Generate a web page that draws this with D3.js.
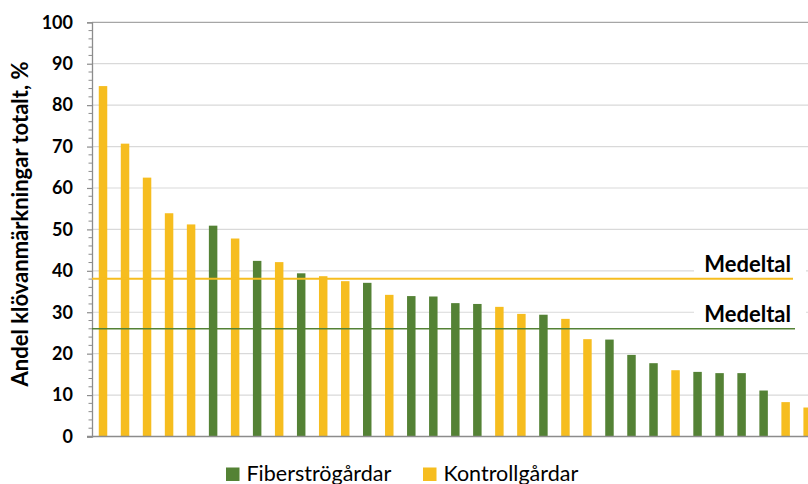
<!DOCTYPE html>
<html>
<head>
<meta charset="utf-8">
<script src="https://cdn.jsdelivr.net/npm/d3@7"></script>
<style>
  html, body { margin: 0; padding: 0; background: #fff; }
  svg { display: block; }
  text { font-family: Lato, "Open Sans", sans-serif; }
</style>
</head>
<body>
<svg id="chart" width="808" height="484"></svg>
<script>
// Share of hoof lesions per farm, sorted descending
const farmType = [
  "K","K","K","K","K","F","K","F","K","F","K",
  "K","F","K","F","F","F","F","K","K","F","K",
  "K","F","F","F","K","F","F","F","F","K","K"
];
const values = [
  84.6, 70.7, 62.5, 53.9, 51.2, 50.9, 47.8, 42.4, 42.1, 39.4, 38.7,
  37.5, 37.1, 34.2, 33.9, 33.8, 32.2, 32.0, 31.3, 29.6, 29.4, 28.4,
  23.5, 23.4, 19.7, 17.7, 16.0, 15.6, 15.3, 15.3, 11.1, 8.3, 7.0
];
const groupKeys = ["F", "K"];
const groupNames = ["Fiberströgårdar", "Kontrollgårdar"];
const groupColors = ["#548235", "#F6BD1F"];
const groupMeans = [26.0, 38.1];
const meanLabel = "Medeltal";
const yTicks = [0, 10, 20, 30, 40, 50, 60, 70, 80, 90, 100];
const yTitle = "Andel klövanmärkningar totalt, %";

const svg = d3.select("#chart");
const W = 808;
const plotLeft = 92, plotTop = 22.3, plotBottom = 436.5;
const step = 22.02;

const x = d3.scaleBand()
  .domain(d3.range(values.length))
  .range([plotLeft, plotLeft + step * values.length])
  .paddingInner(0.615)
  .paddingOuter(0.3075);
const y = d3.scaleLinear().domain([0, 100]).range([plotBottom, plotTop]);
const color = d3.scaleOrdinal().domain(groupKeys).range(groupColors);

// horizontal gridlines
svg.append("g").selectAll("line")
  .data(yTicks.filter(t => t > 0))
  .join("line")
  .attr("x1", plotLeft).attr("x2", W)
  .attr("y1", d => y(d)).attr("y2", d => y(d))
  .attr("stroke", d => d === 100 ? "#a6a6a6" : "#d9d9d9")
  .attr("stroke-width", 1.2);

// white backing behind the mean labels
const labelBoxes = svg.append("g");

// bars
svg.append("g").selectAll("rect")
  .data(values)
  .join("rect")
  .attr("x", (d, i) => x(i))
  .attr("width", x.bandwidth())
  .attr("y", d => y(d))
  .attr("height", d => y(0) - y(d))
  .attr("fill", (d, i) => color(farmType[i]));

// y axis with major and minor ticks
const yAxis = d3.axisLeft(y).tickValues(yTicks).tickSize(5).tickPadding(14).tickFormat(d3.format("d"));
const gAxis = svg.append("g").attr("transform", `translate(${plotLeft},0)`).call(yAxis);
gAxis.select(".domain").attr("stroke", "#8c8c8c").attr("stroke-width", 1.3);
gAxis.selectAll(".tick line").attr("stroke", "#8c8c8c").attr("stroke-width", 1.2);
gAxis.selectAll(".tick text")
  .attr("font-size", 18).attr("font-weight", 700).attr("fill", "#000")
  .style("font-family", "Lato, sans-serif");
const minor = d3.range(0, 101, 2).filter(v => v % 10 !== 0);
svg.append("g").selectAll("line")
  .data(minor)
  .join("line")
  .attr("x1", plotLeft - 3.5).attr("x2", plotLeft)
  .attr("y1", d => y(d)).attr("y2", d => y(d))
  .attr("stroke", "#8c8c8c").attr("stroke-width", 1);

// baseline
svg.append("line")
  .attr("x1", plotLeft - 5).attr("x2", W)
  .attr("y1", y(0)).attr("y2", y(0))
  .attr("stroke", "#8c8c8c").attr("stroke-width", 1.4);

// mean lines with labels
const meanEnd = [795, 793];
const meanWidth = [1.6, 2];
groupKeys.forEach((k, i) => {
  const yy = y(groupMeans[i]);
  labelBoxes.append("rect")
    .attr("x", 694).attr("y", yy - 29)
    .attr("width", 112).attr("height", 27)
    .attr("fill", "#fff");
  svg.append("line")
    .attr("x1", plotLeft).attr("x2", meanEnd[i])
    .attr("y1", yy).attr("y2", yy)
    .attr("stroke", groupColors[i]).attr("stroke-width", meanWidth[i]);
  svg.append("text")
    .attr("x", 791).attr("y", yy - 7)
    .attr("text-anchor", "end")
    .attr("font-size", 22).attr("font-weight", 700).attr("fill", "#000")
    .text(meanLabel);
});

// y axis title
svg.append("text")
  .attr("transform", `translate(28,224) rotate(-90)`)
  .attr("text-anchor", "middle")
  .attr("font-size", 22).attr("font-weight", 700).attr("fill", "#000")
  .text(yTitle);

// legend
const legendX = [226, 423];
const legend = svg.append("g");
groupKeys.forEach((k, i) => {
  legend.append("rect")
    .attr("x", legendX[i]).attr("y", 467.5)
    .attr("width", 13.5).attr("height", 13.5)
    .attr("fill", groupColors[i]);
  legend.append("text")
    .attr("x", legendX[i] + 20.5).attr("y", 480.5)
    .attr("font-size", 21.5).attr("fill", "#000")
    .text(groupNames[i]);
});
</script>
</body>
</html>
